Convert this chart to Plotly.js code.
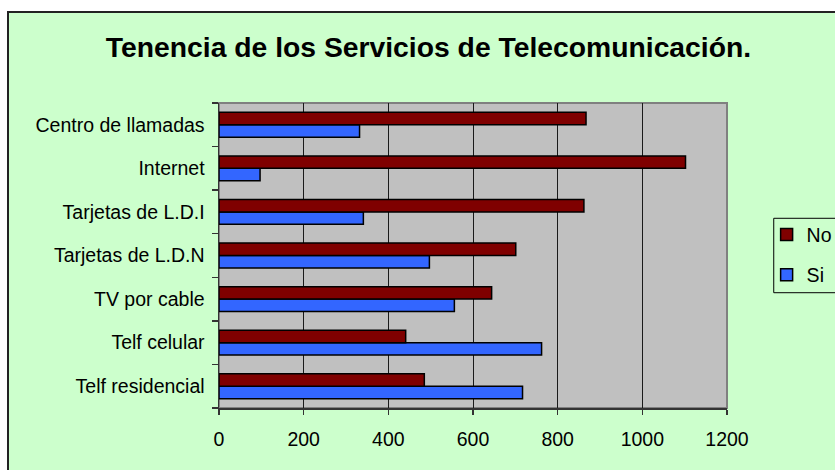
<!DOCTYPE html>
<html>
<head>
<meta charset="utf-8">
<script src="https://cdn.plot.ly/plotly-3.0.1.min.js"></script>
<style>
  html, body { margin: 0; padding: 0; background: #ffffff; overflow: hidden; width: 835px; height: 470px; }
  #wrap { position: absolute; left: 7px; top: 11px; width: 900px; height: 520px;
          background: #CCFFCC; border-left: 2px solid #222; border-top: 2px solid #222; }
  #chart { position: absolute; left: 0; top: 0; width: 900px; height: 457px; }
</style>
</head>
<body>
<div id="wrap"><div id="chart"></div></div>
<script>
// Categories, bottom to top
const categories = ["Telf residencial", "Telf celular", "TV por cable", "Tarjetas de L.D.N",
                    "Tarjetas de L.D.I", "Internet", "Centro de llamadas"];
const seriesNames = ["Si", "No"];
const siValues = [717, 762, 556, 497, 341, 97, 332];
const noValues = [485, 441, 644, 701, 862, 1102, 867];
const xTicks = [0, 200, 400, 600, 800, 1000, 1200];
const titleText = "Tenencia de los Servicios de Telecomunicación.";

const FONT = "'Liberation Sans', Arial, sans-serif";

const traces = [
  {
    type: "bar", orientation: "h", name: seriesNames[0], legendgroup: "si", legendrank: 2,
    y: categories, x: siValues,
    marker: { color: "#3366FF", line: { color: "#000000", width: 1.5 } }
  },
  {
    type: "bar", orientation: "h", name: seriesNames[1], legendgroup: "no", legendrank: 1,
    y: categories, x: noValues,
    marker: { color: "#7F0000", line: { color: "#000000", width: 1.5 } }
  }
];

const layout = {
  width: 900, height: 457,
  margin: { l: 210.3, r: 181.7, t: 90.3, b: 62.3, pad: 0, autoexpand: false },
  paper_bgcolor: "rgba(0,0,0,0)",
  plot_bgcolor: "#C0C0C0",
  font: { family: FONT, size: 19.5, color: "#000000" },
  barmode: "group",
  bargap: 0.43,
  bargroupgap: 0,
  title: {
    text: "<b>" + titleText + "</b>",
    font: { family: FONT, size: 28.3, color: "#000000" },
    x: 419.5 / 900, xref: "container", xanchor: "center",
    y: 0.9245, yref: "container", yanchor: "middle"
  },
  xaxis: {
    range: [0, 1200], tickvals: xTicks, ticktext: xTicks.map(String),
    showgrid: true, gridcolor: "#1a1a1a", gridwidth: 1,
    zeroline: false,
    showline: true, linecolor: "#333333", linewidth: 1.5,
    ticks: "outside", ticklen: 5, tickcolor: "#333333", tickwidth: 1.5,
    tickfont: { family: FONT, size: 19.5, color: "#000000" },
    ticklabelstandoff: 8,
    fixedrange: true
  },
  yaxis: {
    type: "category", categoryorder: "array", categoryarray: categories,
    showgrid: false, zeroline: false,
    showline: true, linecolor: "#333333", linewidth: 1.5,
    ticks: "outside", ticklen: 6, tickcolor: "#333333", tickwidth: 1.5,
    tickson: "boundaries",
    tickfont: { family: FONT, size: 19.5, color: "#000000" },
    ticklabelstandoff: 9,
    fixedrange: true
  },
  shapes: [
    { type: "rect", xref: "paper", yref: "paper", x0: 0, x1: 1, y0: 0, y1: 1,
      line: { color: "#808080", width: 2 }, fillcolor: "rgba(0,0,0,0)", layer: "below" },
    { type: "rect", xref: "paper", yref: "paper", x0: 1.092, x1: 1.5, y0: 0.378, y1: 0.622,
      line: { color: "#000000", width: 1 }, fillcolor: "rgba(0,0,0,0)", layer: "above" }
  ],
  showlegend: true,
  legend: {
    x: 1.078, xanchor: "left", y: 0.632, yanchor: "top",
    xref: "paper", yref: "paper",
    bgcolor: "rgba(0,0,0,0)", borderwidth: 0,
    font: { family: FONT, size: 19.5, color: "#000000" },
    traceorder: "grouped", tracegroupgap: 12
  }
};

Plotly.newPlot("chart", traces, layout, { displayModeBar: false, staticPlot: true });
</script>
</body>
</html>
